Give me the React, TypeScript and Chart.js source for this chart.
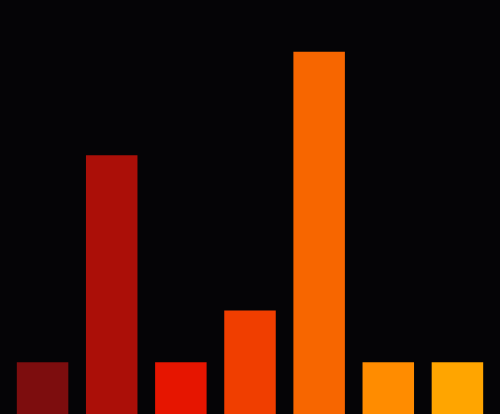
import React, { useEffect, useRef } from "react";
import { Chart, registerables } from "chart.js";

Chart.register(...registerables);

const categories = ["A", "B", "C", "D", "E", "F", "G"];
const values = [1, 5, 1, 2, 7, 1, 1];
const barColors = ["#7d0d0e", "#ab0f08", "#e61500", "#f03e00", "#f76600", "#ff8c00", "#ffa500"];
const yMax = 8;

export default function App() {
  const ref = useRef<HTMLCanvasElement | null>(null);
  useEffect(() => {
    document.body.style.margin = "0";
    document.body.style.background = "#050406";
    const chart = new Chart(ref.current!, {
      type: "bar",
      data: {
        labels: categories,
        datasets: [
          {
            data: values,
            backgroundColor: barColors,
            borderWidth: 0,
            categoryPercentage: 1,
            barPercentage: 0.745,
          },
        ],
      },
      options: {
        animation: false,
        responsive: false,
        maintainAspectRatio: false,
        layout: { padding: 0 },
        plugins: { legend: { display: false }, tooltip: { enabled: false } },
        scales: {
          x: { display: false },
          y: { display: false, min: 0, max: yMax },
        },
      },
    });
    return () => chart.destroy();
  }, []);
  return (
    <div style={{ width: 500, height: 414, background: "#050406", overflow: "hidden", position: "relative" }}>
      <canvas ref={ref} width={484} height={414} style={{ position: "absolute", left: 8, top: 0, width: 484, height: 414 }} />
    </div>
  );
}
